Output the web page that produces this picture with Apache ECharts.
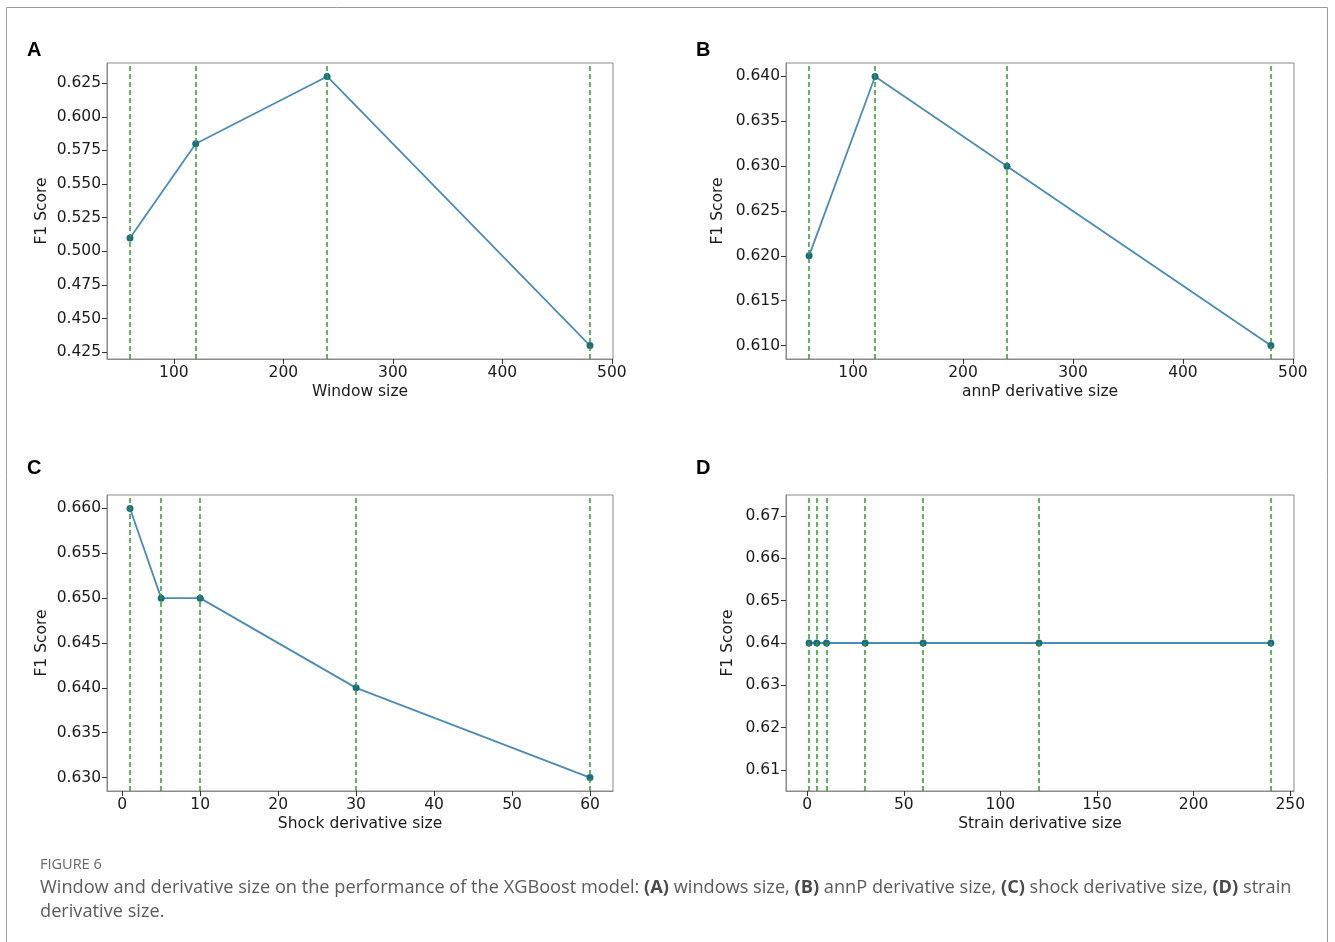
<!DOCTYPE html>
<html>
<head>
<meta charset="utf-8">
<title>Figure 6</title>
<script src="https://cdn.jsdelivr.net/npm/echarts@6.0.0/dist/echarts.min.js"></script>
<style>
  html, body { margin: 0; padding: 0; background: #fff; }
  #fig { width: 1335px; height: 942px; }
</style>
</head>
<body>
<div id="fig"></div>
<script>
'use strict';

/* data */
var windowSizes = [60, 120, 240, 480];
var windowF1 = [0.51, 0.58, 0.63, 0.43];

var annpSizes = [60, 120, 240, 480];
var annpF1 = [0.62, 0.64, 0.63, 0.61];

var shockSizes = [1, 5, 10, 30, 60];
var shockF1 = [0.66, 0.65, 0.65, 0.64, 0.63];

var strainSizes = [1, 5, 10, 30, 60, 120, 240];
var strainF1 = [0.64, 0.64, 0.64, 0.64, 0.64, 0.64, 0.64];

/* tick labels */
var xTicksAB = [100, 200, 300, 400, 500];
var xTicksC = [0, 10, 20, 30, 40, 50, 60];
var xTicksD = [0, 50, 100, 150, 200, 250];
var yTicksA = [0.425, 0.450, 0.475, 0.500, 0.525, 0.550, 0.575, 0.600, 0.625];
var yTicksB = [0.610, 0.615, 0.620, 0.625, 0.630, 0.635, 0.640];
var yTicksC = [0.630, 0.635, 0.640, 0.645, 0.650, 0.655, 0.660];
var yTicksD = [0.61, 0.62, 0.63, 0.64, 0.65, 0.66, 0.67];

var tickFont = 'DejaVu Sans';
var spine = '#8a8a8a';

function axisBase(ticks, digits) {
  return {
    axisLine: { show: true, onZero: false, lineStyle: { color: spine, width: 1 } },
    axisTick: { show: true, length: 5, lineStyle: { color: '#333' }, customValues: ticks },
    axisLabel: {
      customValues: ticks,
      fontFamily: tickFont,
      fontSize: 15.5,
      color: '#1a1a1a',
      formatter: function (v) { return digits == null ? String(v) : Number(v).toFixed(digits); }
    },
    splitLine: { show: false }
  };
}

var panels = [
  { box: [107, 63, 506, 296], xs: windowSizes, ys: windowF1, xr: [39, 501], yr: [0.42, 0.64],
    xt: xTicksAB, yt: yTicksA, dig: 3, xname: 'Window size', ygap: 57 },
  { box: [786, 63, 508, 296], xs: annpSizes, ys: annpF1, xr: [39, 501], yr: [0.6085, 0.6415],
    xt: xTicksAB, yt: yTicksB, dig: 3, xname: 'annP derivative size', ygap: 60 },
  { box: [107, 495, 506, 296], xs: shockSizes, ys: shockF1, xr: [-1.95, 62.95], yr: [0.6285, 0.6615],
    xt: xTicksC, yt: yTicksC, dig: 3, xname: 'Shock derivative size', ygap: 57 },
  { box: [786, 495, 508, 296], xs: strainSizes, ys: strainF1, xr: [-10.95, 251.95], yr: [0.605, 0.675],
    xt: xTicksD, yt: yTicksD, dig: 2, xname: 'Strain derivative size', ygap: 50 }
];

var grids = [], xAxes = [], yAxes = [], series = [];

panels.forEach(function (p, i) {
  grids.push({
    left: p.box[0], top: p.box[1], width: p.box[2], height: p.box[3],
    show: true, borderColor: spine, borderWidth: 1, backgroundColor: 'transparent'
  });

  var xa = axisBase(p.xt, null);
  xa.type = 'value';
  xa.gridIndex = i;
  xa.min = p.xr[0];
  xa.max = p.xr[1];
  xa.name = p.xname;
  xa.nameLocation = 'middle';
  xa.nameGap = 25;
  xa.nameTextStyle = { fontFamily: tickFont, fontSize: 15.5, color: '#1a1a1a' };
  xa.axisLabel.margin = 6;
  xAxes.push(xa);

  var ya = axisBase(p.yt, p.dig);
  ya.type = 'value';
  ya.gridIndex = i;
  ya.min = p.yr[0];
  ya.max = p.yr[1];
  ya.name = 'F1 Score';
  ya.nameLocation = 'middle';
  ya.nameGap = p.ygap;
  ya.nameTextStyle = { fontFamily: tickFont, fontSize: 15.5, color: '#1a1a1a' };
  ya.axisLabel.margin = 6;
  yAxes.push(ya);

  series.push({
    type: 'line',
    xAxisIndex: i,
    yAxisIndex: i,
    data: p.xs.map(function (x, k) { return [x, p.ys[k]]; }),
    symbol: 'circle',
    symbolSize: 7,
    lineStyle: { color: '#4a8cb6', width: 1.8 },
    itemStyle: { color: '#1d6b84' },
    z: 3,
    markLine: {
      silent: true,
      symbol: ['none', 'none'],
      label: { show: false },
      lineStyle: { color: '#2f9a2f', type: [5, 3], width: 1.5 },
      data: p.xs.map(function (x) { return { xAxis: x }; })
    },
    animation: false
  });
});

var chart = echarts.init(document.getElementById('fig'));

var option = {
  backgroundColor: '#fff',
  animation: false,
  grid: grids,
  xAxis: xAxes,
  yAxis: yAxes,
  series: series,
  graphic: [
    { type: 'rect', shape: { x: 6.5, y: 7.5, width: 1321, height: 960 },
      style: { fill: 'none', stroke: '#9a9a9a', lineWidth: 1 }, silent: true },
    { type: 'text', left: 27, top: 40, style: { text: 'A', font: 'bold 20px "Liberation Sans"', fill: '#000' } },
    { type: 'text', left: 696, top: 40, style: { text: 'B', font: 'bold 20px "Liberation Sans"', fill: '#000' } },
    { type: 'text', left: 27, top: 458, style: { text: 'C', font: 'bold 20px "Liberation Sans"', fill: '#000' } },
    { type: 'text', left: 696, top: 458, style: { text: 'D', font: 'bold 20px "Liberation Sans"', fill: '#000' } },
    { type: 'text', left: 40, top: 857, style: { text: 'FIGURE 6', font: '14.5px "Open Sans"', fill: '#666' } },
    { type: 'text', left: 40, top: 876, style: {
        text: 'Window and derivative size on the performance of the XGBoost model: {b|(A)} windows size, {b|(B)} annP derivative size, {b|(C)} shock derivative size, {b|(D)} strain\nderivative size.',
        font: '18.2px "Open Sans"', fill: '#5a5a5a', lineHeight: 24,
        rich: { b: { fontWeight: 'bold', fontFamily: 'Open Sans', fontSize: 18.2, fill: '#4a4a4a' } }
      } }
  ]
};

chart.setOption(option);
</script>
</body>
</html>
